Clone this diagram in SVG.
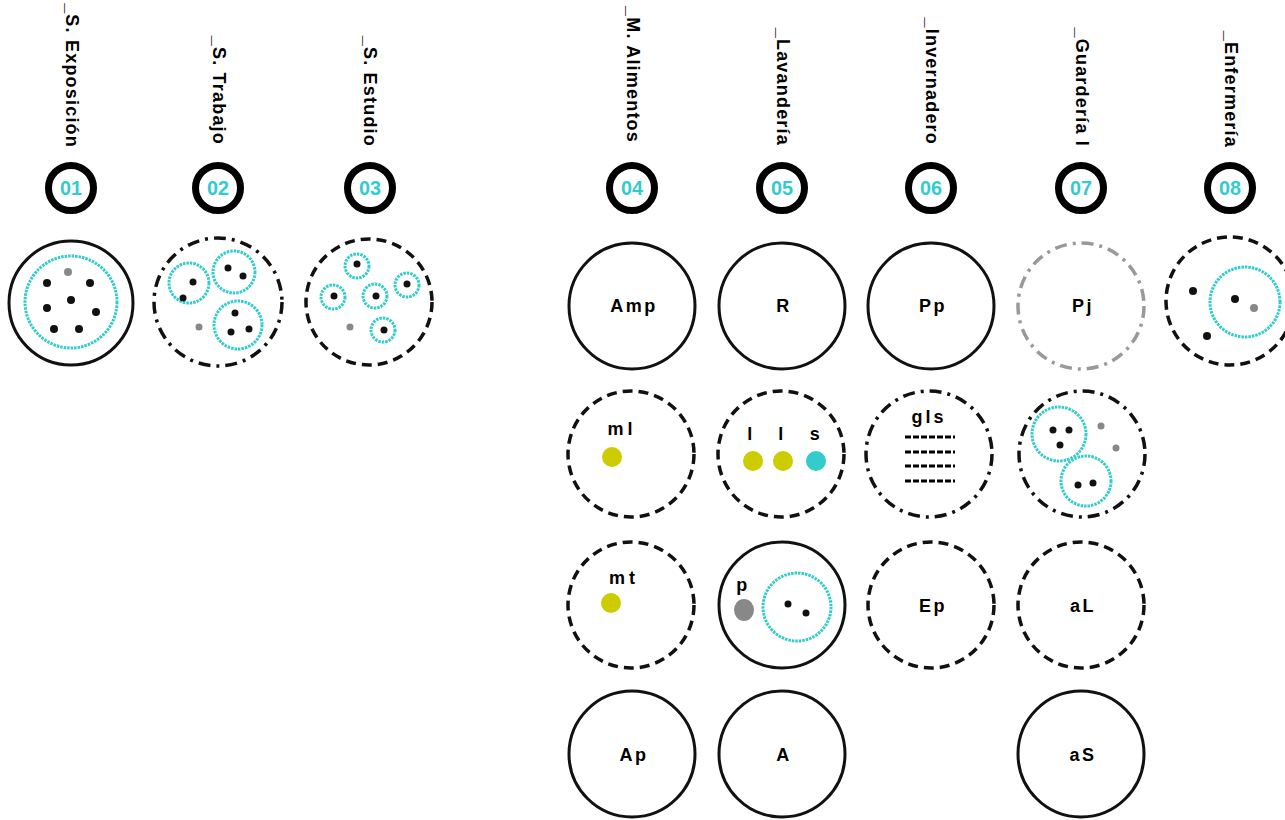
<svg xmlns="http://www.w3.org/2000/svg" width="1285" height="820" viewBox="0 0 1285 820">
<style>
.lbl{font-family:"Liberation Sans",Arial,sans-serif;font-weight:bold;font-size:18px;letter-spacing:1.2px;fill:#000;text-anchor:end}
.num{font-family:"Liberation Sans",Arial,sans-serif;font-weight:bold;font-size:20px;fill:#33CCCC;text-anchor:middle}
.badge{fill:#fff;stroke:#000;stroke-width:7}
.solid{fill:#fff;stroke:#111;stroke-width:3}
.dash{fill:#fff;stroke:#111;stroke-width:3.5;stroke-dasharray:10 6}
.dashdot{fill:#fff;stroke:#111;stroke-width:3.5;stroke-dasharray:12 6 3 6}
.greydd{fill:#fff;stroke:#999;stroke-width:3.5;stroke-dasharray:12 6 3 6}
.cy{fill:none;stroke:#33CCCC;stroke-width:3;stroke-dasharray:2.5 1}
.t{font-family:"Liberation Sans",Arial,sans-serif;font-weight:bold;font-size:18px;letter-spacing:2.5px;fill:#000;text-anchor:middle}
.k{fill:#111}
.g{fill:#888}
.y{fill:#CCCC00}
.c{fill:#33CCCC}
.lines{stroke:#000;stroke-width:3;stroke-dasharray:6 2}
</style>

<g id="col01">
<text class="lbl" transform="translate(66,148) rotate(90)">_S. Exposición</text>
<circle class="badge" cx="71" cy="188" r="22.5"/>
<text class="num" x="71" y="195" textLength="22" lengthAdjust="spacingAndGlyphs">01</text>
</g>
<g id="col02">
<text class="lbl" transform="translate(213,145) rotate(90)">_S. Trabajo</text>
<circle class="badge" cx="218" cy="188" r="22.5"/>
<text class="num" x="218" y="195" textLength="22" lengthAdjust="spacingAndGlyphs">02</text>
</g>
<g id="col03">
<text class="lbl" transform="translate(364,147) rotate(90)">_S. Estudio</text>
<circle class="badge" cx="370" cy="188" r="22.5"/>
<text class="num" x="370" y="195" textLength="22" lengthAdjust="spacingAndGlyphs">03</text>
</g>
<g id="col04">
<text class="lbl" transform="translate(627,143) rotate(90)">_M. Alimentos</text>
<circle class="badge" cx="632" cy="188" r="22.5"/>
<text class="num" x="632" y="195" textLength="22" lengthAdjust="spacingAndGlyphs">04</text>
</g>
<g id="col05">
<text class="lbl" transform="translate(777,146) rotate(90)">_Lavandería</text>
<circle class="badge" cx="782" cy="188" r="22.5"/>
<text class="num" x="782" y="195" textLength="22" lengthAdjust="spacingAndGlyphs">05</text>
</g>
<g id="col06">
<text class="lbl" transform="translate(926,145) rotate(90)">_Invernadero</text>
<circle class="badge" cx="931" cy="188" r="22.5"/>
<text class="num" x="931" y="195" textLength="22" lengthAdjust="spacingAndGlyphs">06</text>
</g>
<g id="col07">
<text class="lbl" transform="translate(1076,147) rotate(90)">_Guardería I</text>
<circle class="badge" cx="1081" cy="188" r="22.5"/>
<text class="num" x="1081" y="195" textLength="22" lengthAdjust="spacingAndGlyphs">07</text>
</g>
<g id="col08">
<text class="lbl" transform="translate(1225,148) rotate(90)">_Enfermería</text>
<circle class="badge" cx="1230" cy="188" r="22.5"/>
<text class="num" x="1230" y="195" textLength="22" lengthAdjust="spacingAndGlyphs">08</text>
</g>

<g id="n01">
<circle class="solid" cx="71" cy="303" r="62"/>
<circle class="cy" cx="71" cy="302" r="46"/>
<circle class="g" cx="68" cy="272" r="4"/>
<circle class="k" cx="47" cy="283" r="4"/>
<circle class="k" cx="90" cy="283" r="4"/>
<circle class="k" cx="71" cy="300" r="4"/>
<circle class="k" cx="47" cy="308" r="4"/>
<circle class="k" cx="96" cy="312" r="4"/>
<circle class="k" cx="54" cy="329" r="4"/>
<circle class="k" cx="79" cy="329" r="4"/>
</g>

<g id="n02">
<circle class="dashdot" cx="218" cy="302" r="64"/>
<circle class="cy" cx="189" cy="283" r="20"/>
<circle class="k" cx="193" cy="282" r="3.5"/>
<circle class="k" cx="183" cy="298" r="3.5"/>
<circle class="cy" cx="234" cy="272" r="21"/>
<circle class="k" cx="228" cy="268" r="3.5"/>
<circle class="k" cx="243" cy="276" r="3.5"/>
<circle class="cy" cx="238" cy="325" r="24"/>
<circle class="k" cx="235" cy="313" r="3.5"/>
<circle class="k" cx="231" cy="332" r="3.5"/>
<circle class="k" cx="249" cy="329" r="3.5"/>
<circle class="g" cx="199" cy="327" r="3.5"/>
</g>

<g id="n03">
<circle class="dash" cx="369" cy="302" r="63"/>
<circle class="cy" cx="357" cy="266" r="12"/>
<circle class="k" cx="357" cy="264" r="3.5"/>
<circle class="cy" cx="333" cy="297" r="12"/>
<circle class="k" cx="334" cy="296" r="3.5"/>
<circle class="cy" cx="375" cy="296" r="12"/>
<circle class="k" cx="376" cy="296" r="3.5"/>
<circle class="cy" cx="407" cy="285" r="12"/>
<circle class="k" cx="407" cy="284" r="3.5"/>
<circle class="cy" cx="383" cy="330" r="12"/>
<circle class="k" cx="384" cy="330" r="3.5"/>
<circle class="g" cx="350" cy="327" r="3.5"/>
</g>

<g id="amp"><circle class="solid" cx="632" cy="306" r="63"/><text class="t" x="634" y="312">Amp</text></g>
<g id="r"><circle class="solid" cx="782" cy="306" r="63"/><text class="t" x="784" y="312">R</text></g>
<g id="pp"><circle class="solid" cx="931" cy="306" r="63"/><text class="t" x="933" y="312">Pp</text></g>
<g id="pj"><circle class="greydd" cx="1081" cy="306" r="63"/><text class="t" x="1083" y="312">Pj</text></g>
<g id="enf">
<circle class="dash" cx="1230" cy="301" r="64"/>
<circle class="cy" cx="1245" cy="302" r="35"/>
<circle class="k" cx="1193" cy="291" r="4"/>
<circle class="k" cx="1235" cy="299" r="4"/>
<circle class="g" cx="1254" cy="308" r="4"/>
<circle class="k" cx="1207" cy="336" r="4"/>
</g>

<g id="ml">
<circle class="dash" cx="631" cy="454" r="63"/>
<text class="t" x="622" y="435" style="letter-spacing:4px">ml</text>
<circle class="y" cx="612" cy="457" r="10"/>
</g>
<g id="lls">
<circle class="dash" cx="781" cy="454" r="63"/>
<text class="t" x="751" y="440">l</text>
<text class="t" x="782" y="440">l</text>
<text class="t" x="816" y="440">s</text>
<circle class="y" cx="753" cy="461" r="10"/>
<circle class="y" cx="783" cy="461" r="10"/>
<circle class="c" cx="816" cy="461" r="10"/>
</g>
<g id="gls">
<circle class="dashdot" cx="929" cy="454" r="63"/>
<text class="t" x="929" y="423" style="letter-spacing:3px">gls</text>
<line class="lines" x1="905" y1="437" x2="955" y2="437"/>
<line class="lines" x1="905" y1="452" x2="955" y2="452"/>
<line class="lines" x1="905" y1="466" x2="955" y2="466"/>
<line class="lines" x1="905" y1="481" x2="955" y2="481"/>
</g>
<g id="gua2">
<circle class="dashdot" cx="1082" cy="454" r="63"/>
<circle class="cy" cx="1059" cy="434" r="27"/>
<circle class="k" cx="1053" cy="430" r="3.5"/>
<circle class="k" cx="1069" cy="430" r="3.5"/>
<circle class="k" cx="1060" cy="445" r="3.5"/>
<circle class="cy" cx="1086" cy="481" r="25"/>
<circle class="k" cx="1078" cy="485" r="3.5"/>
<circle class="k" cx="1093" cy="483" r="3.5"/>
<circle class="g" cx="1101" cy="426" r="3.5"/>
<circle class="g" cx="1116" cy="448" r="3.5"/>
</g>

<g id="mt">
<circle class="dash" cx="631" cy="605" r="63"/>
<text class="t" x="624" y="584" style="letter-spacing:4px">mt</text>
<circle class="y" cx="611" cy="603" r="10"/>
</g>
<g id="p">
<circle class="solid" cx="782" cy="605" r="63"/>
<text class="t" x="743" y="591">p</text>
<ellipse class="g" cx="744" cy="610" rx="10" ry="11"/>
<circle class="cy" cx="797" cy="607" r="34"/>
<circle class="k" cx="788" cy="604" r="3.5"/>
<circle class="k" cx="806" cy="613" r="3.5"/>
</g>
<g id="ep"><circle class="dash" cx="931" cy="605" r="63"/><text class="t" x="933" y="612">Ep</text></g>
<g id="al"><circle class="dash" cx="1081" cy="605" r="63"/><text class="t" x="1083" y="612">aL</text></g>

<g id="ap"><circle class="solid" cx="632" cy="754" r="63"/><text class="t" x="634" y="761">Ap</text></g>
<g id="a"><circle class="solid" cx="782" cy="754" r="63"/><text class="t" x="784" y="761">A</text></g>
<g id="as"><circle class="solid" cx="1081" cy="754" r="63"/><text class="t" x="1083" y="761">aS</text></g>

<g id="connectors"></g>
</svg>
